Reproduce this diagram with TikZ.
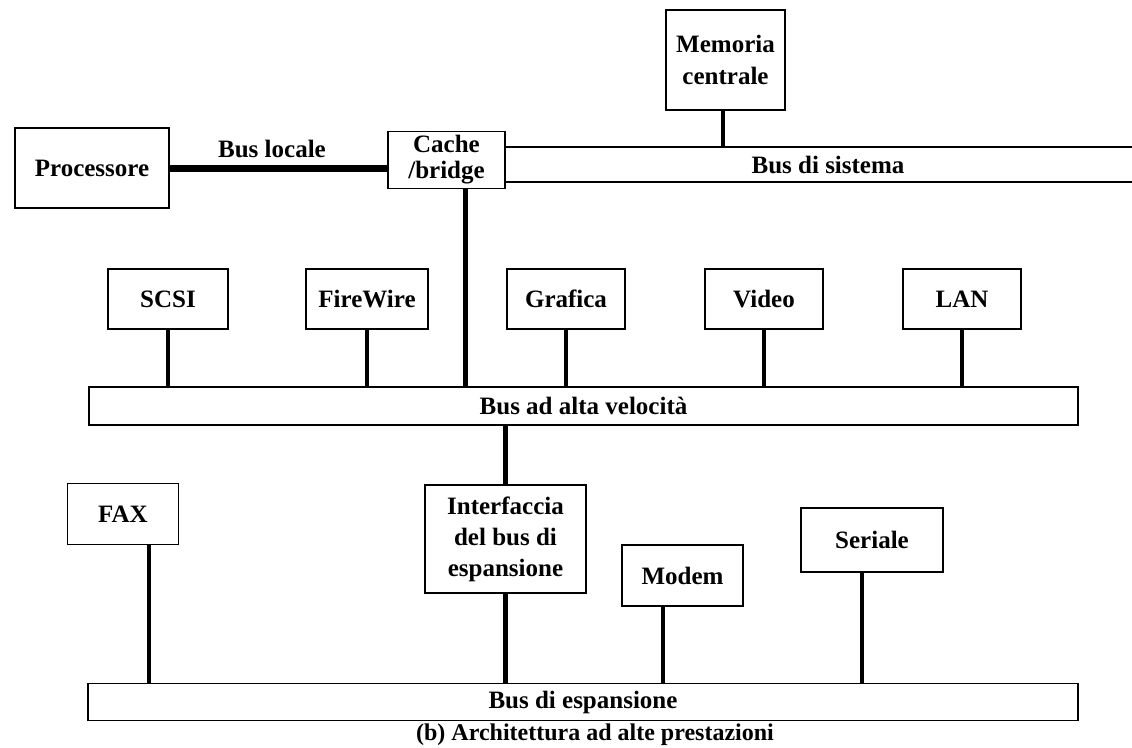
\documentclass[tikz,border=0pt]{standalone}
\usepackage{fontspec}
\setmainfont{Liberation Serif}
\usetikzlibrary{calc}
\begin{document}
\begin{tikzpicture}[x=1pt,y=-1pt,
  lbl/.style={font=\fontsize{25}{31}\selectfont\bfseries},
  unit/.style={lbl, draw, line width=1.8pt, fill=white, inner sep=0pt, align=center},
  busbox/.style={lbl, draw, line width=1.8pt, fill=white, inner sep=0pt},
  conn/.style={line width=4.5pt},
  thinline/.style={line width=1.8pt}]
\useasboundingbox (0,0) rectangle (1132,747);

% top level: processor, cache/bridge, main memory, system bus
\node[unit, minimum width=154pt, minimum height=80pt] (proc) at (92,168) {Processore};
\node[unit, minimum width=117pt, minimum height=57pt, font=\fontsize{25}{26}\selectfont\bfseries] (cache) at (446.5,160) {Cache\\/bridge};
\node[unit, minimum width=119pt, minimum height=100pt, font=\fontsize{25}{32}\selectfont\bfseries] (mem) at (725.5,60) {Memoria\\centrale};
\node[lbl, inner sep=0pt, minimum width=646pt, minimum height=35pt] (sys) at (828,164.5) {Bus di sistema};
\draw[thinline] (sys.north west) -- (sys.north east);
\draw[thinline] (sys.south west) -- (sys.south east);

\draw[line width=7pt] (proc.east) -- (proc.east -| cache.west)
  node[lbl, pos=0.47, above=3pt] (locallbl) {Bus locale};
\coordinate (memdrop) at ($(mem.south west)!0.48!(mem.south east)$);
\draw[conn] (memdrop) -- (memdrop |- sys.north);

% high speed bus and its devices
\node[busbox, minimum width=989pt, minimum height=38pt] (hs) at (583.5,406) {Bus ad alta velocità};
\coordinate (cachedrop) at ($(cache.south west)!0.66!(cache.south east)$);
\draw[conn] (cachedrop) -- (cachedrop |- hs.north);

\node[unit, minimum width=120pt, minimum height=60pt] (scsi) at (168,299) {SCSI};
\node[unit, minimum width=122pt, minimum height=60pt] (fw) at (367,299) {FireWire};
\node[unit, minimum width=118pt, minimum height=60pt] (graf) at (566,299) {Grafica};
\node[unit, minimum width=118pt, minimum height=60pt] (video) at (764,299) {Video};
\node[unit, minimum width=118pt, minimum height=60pt] (lan) at (962,299) {LAN};
\foreach \n in {scsi,fw,graf,video,lan}
  \draw[conn] (\n.south) -- (\n.south |- hs.north);

% expansion bus and its devices
\node[busbox, minimum width=990pt, minimum height=37pt] (exp) at (583,702) {Bus di espansione};
\node[unit, minimum width=161pt, minimum height=108pt] (intf) at (505.5,539) {Interfaccia\\del bus di\\espansione};
\draw[conn] (intf.north) -- (intf.north |- hs.south);
\draw[conn] (intf.south) -- (intf.south |- exp.north);

\node[unit, minimum width=111pt, minimum height=61pt] (fax) at (123,514) {FAX};
\node[unit, minimum width=121pt, minimum height=61pt] (modem) at (682.5,575.5) {Modem};
\node[unit, minimum width=142pt, minimum height=64pt] (ser) at (872,540) {Seriale};
\coordinate (faxdrop) at ($(fax.south west)!0.73!(fax.south east)$);
\draw[conn] (faxdrop) -- (faxdrop |- exp.north);
\coordinate (modemdrop) at ($(modem.south west)!0.34!(modem.south east)$);
\draw[conn] (modemdrop) -- (modemdrop |- exp.north);
\coordinate (serdrop) at ($(ser.south west)!0.43!(ser.south east)$);
\draw[conn] (serdrop) -- (serdrop |- exp.north);

\node[font=\fontsize{24}{30}\selectfont\bfseries, inner sep=0pt, anchor=base] (caption) at (595,740) {(b) Architettura ad alte prestazioni};
\end{tikzpicture}
\end{document}
